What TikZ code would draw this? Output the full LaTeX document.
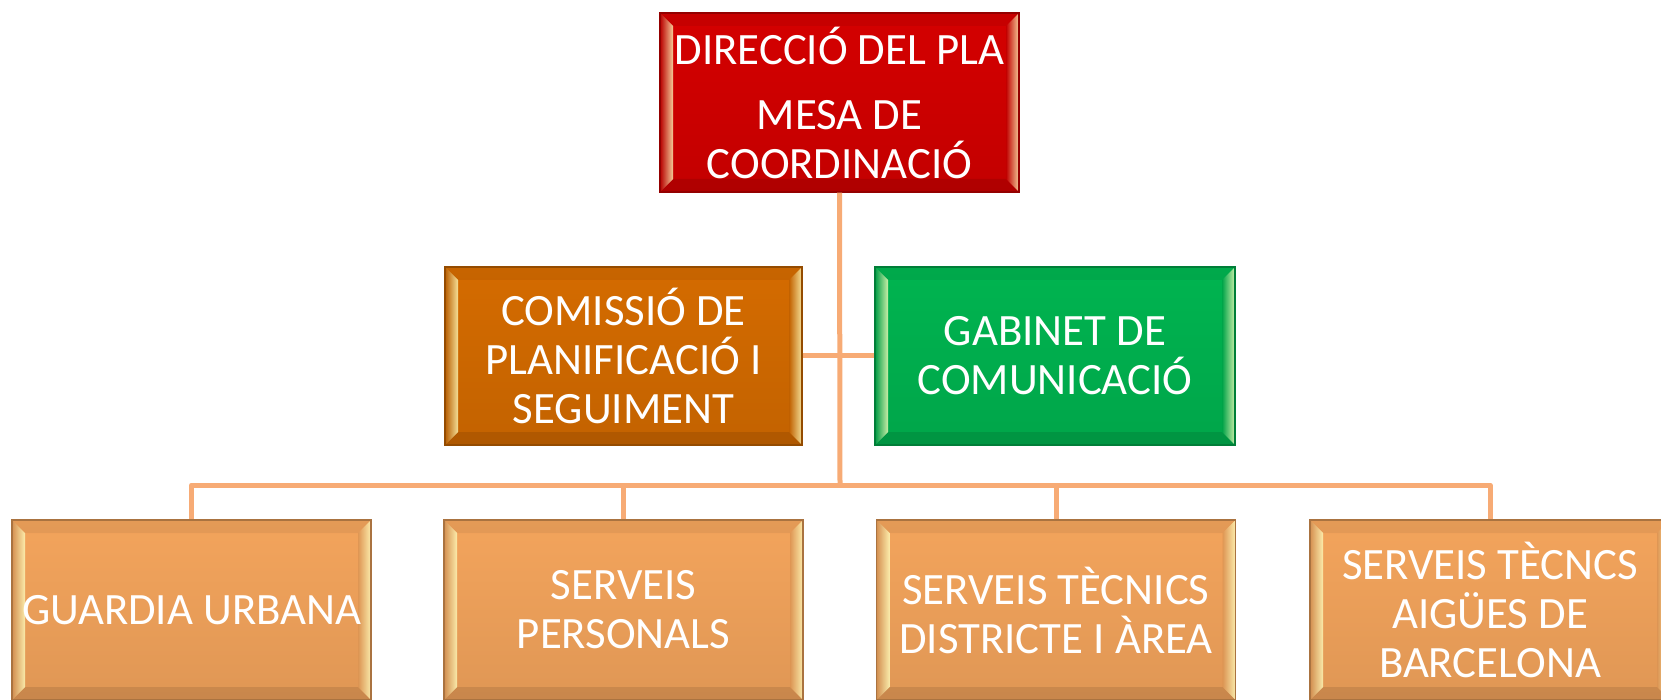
\documentclass[tikz,border=0pt]{standalone}
\usepackage{fontspec}
\setmainfont{Carlito}
\definecolor{dirred}{HTML}{D40000}
\definecolor{comorange}{HTML}{D46B00}
\definecolor{gabgreen}{HTML}{00B450}
\definecolor{unitor}{HTML}{F3A45C}
\definecolor{linec}{HTML}{F7AB75}
\newcommand{\bw}{6.5pt}
\tikzset{
  bev/.style={path picture={
    \path (path picture bounding box.north west) coordinate (pNW)
          (path picture bounding box.north east) coordinate (pNE)
          (path picture bounding box.south west) coordinate (pSW)
          (path picture bounding box.south east) coordinate (pSE);
    \fill[black,opacity=0.06] (pNW) -- ++(\bw,-\bw) -- ([shift={(-\bw,-\bw)}]pNE) -- (pNE) -- cycle;
    \fill[black,opacity=0.10] (pSW) -- ++(\bw,\bw) -- ([shift={(-\bw,\bw)}]pSE) -- (pSE) -- cycle;
    \shade[left color=#1!85!black, right color=yellow!25!white, opacity=0.8]
      (pNW) -- ++(\bw,-\bw) -- ([shift={(\bw,\bw)}]pSW) -- (pSW) -- cycle;
    \shade[left color=#1!90!black, right color=yellow!25!white, opacity=0.8]
      (pNE) -- ++(-\bw,-\bw) -- ([shift={(-\bw,\bw)}]pSE) -- (pSE) -- cycle;
  }},
  orgbox/.style={rectangle, top color=#1, bottom color=#1!92!black,
    draw=#1!70!black, line width=0.6pt, bev=#1,
    text=white, align=center, inner sep=1pt,
    font=\fontsize{22.4pt}{24.5pt}\selectfont},
  conn/.style={draw=linec, line width=2.5pt, line join=round}
}
\begin{document}
\begin{tikzpicture}[x=0.5pt,y=-0.5pt]
\useasboundingbox (0,0) rectangle (1661,700);
\clip (0,0) rectangle (1661,700);
\node[orgbox=dirred, minimum width=179.5pt, minimum height=89.5pt] (dir) at (839.5,102.5)
  {DIRECCIÓ DEL PLA\\[8pt]MESA DE\\COORDINACIÓ};
\node[orgbox=comorange, minimum width=178.5pt, minimum height=89pt] (cps) at (623.5,356)
  {COMISSIÓ DE\\PLANIFICACIÓ I\\SEGUIMENT};
\node[orgbox=gabgreen, minimum width=180pt, minimum height=89pt] (gab) at (1055,356)
  {GABINET DE\\COMUNICACIÓ};
\node[orgbox=unitor, minimum width=179.5pt, minimum height=90pt] (gu) at (191.5,610)
  {GUARDIA URBANA};
\node[orgbox=unitor, minimum width=179.5pt, minimum height=90pt] (sp) at (623.5,610)
  {SERVEIS\\PERSONALS};
\node[orgbox=unitor, minimum width=179.5pt, minimum height=90pt] (st) at (1056,610)
  {SERVEIS TÈCNICS\\DISTRICTE I ÀREA};
\node[orgbox=unitor, minimum width=180pt, minimum height=90pt] (ab) at (1490,610)
  {SERVEIS TÈCNCS\\AIGÜES DE\\BARCELONA};
\coordinate (bus) at (840,485);
\draw[conn] (dir.south) -- (bus);
\draw[conn] (cps.east) -- (gab.west);
\draw[conn] (bus) -| (gu.north);
\draw[conn] (bus) -| (ab.north);
\draw[conn] (sp.north) -- (sp.north |- bus);
\draw[conn] (st.north) -- (st.north |- bus);
\end{tikzpicture}
\end{document}
